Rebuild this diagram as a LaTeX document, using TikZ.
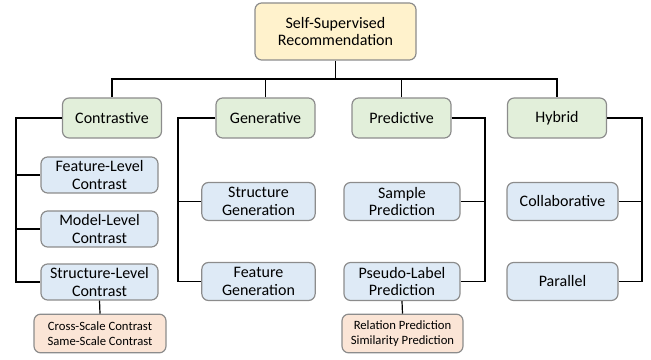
\documentclass[tikz,border=0pt]{standalone}
\usepackage{fontspec}
\setmainfont{Carlito}
\usepackage{tikz}

\definecolor{rootfill}{HTML}{FFF2CC}
\definecolor{catfill}{HTML}{E2EFDA}
\definecolor{subfill}{HTML}{DEEAF6}
\definecolor{leaffill}{HTML}{FBE5D6}
\definecolor{boxline}{HTML}{8C8C8C}

\begin{document}
\begin{tikzpicture}[x=0.75pt,y=-0.75pt,line width=0.9pt,
  box/.style={draw=boxline,rounded corners=5pt,align=center,inner sep=1pt,
    font=\fontsize{12}{13}\selectfont},
  rootbox/.style={box,fill=rootfill,minimum width=120.75pt,minimum height=42.75pt},
  catbox/.style={box,fill=catfill,minimum width=74.25pt,minimum height=30pt},
  subbox/.style={box,fill=subfill,minimum height=28.5pt},
  leafbox/.style={box,fill=leaffill,minimum height=29pt,
    font=\fontsize{9.5}{11.3}\selectfont}]
\useasboundingbox (0,0) rectangle (651,360);

\node [rootbox] (root) at (335.5,31.5) {Self-Supervised\\Recommendation};

\node [catbox] (con) at (112,118) {Contrastive};
\node [catbox] (gen) at (265.5,118) {Generative};
\node [catbox] (pre) at (401.5,118) {Predictive};
\node [catbox] (hyb) at (557,118) {Hybrid};

\node [subbox,minimum width=87.75pt,minimum height=27pt] (feat) at (99.5,175) {Feature-Level\\Contrast};
\node [subbox,minimum width=87.75pt,minimum height=27pt] (model) at (99.5,229) {Model-Level\\Contrast};
\node [subbox,minimum width=87.75pt,minimum height=27pt] (struct) at (99.5,282) {Structure-Level\\Contrast};

\node [subbox,minimum width=85pt] (sgen) at (258.5,201.5) {Structure\\Generation};
\node [subbox,minimum width=85pt] (fgen) at (258.5,281.5) {Feature\\Generation};

\node [subbox,minimum width=87pt] (spre) at (402,201.5) {Sample\\Prediction};
\node [subbox,minimum width=87pt] (plpre) at (402,281.5) {Pseudo-Label\\Prediction};

\node [subbox,minimum width=83.25pt] (coll) at (562.5,201.5) {Collaborative};
\node [subbox,minimum width=83.25pt] (par) at (562.5,281.5) {Parallel};

\node [leafbox,minimum width=99pt] (scale) at (100,333.5) {Cross-Scale Contrast\\Same-Scale Contrast};
\node [leafbox,minimum width=90.75pt] (relsim) at (402.5,333.5) {Relation Prediction\\Similarity Prediction};

% top level bus
\coordinate (bus) at (335.5,79);
\draw (root.south) -- (bus);
\draw (con.north) -- (con.north |- bus) -- (hyb.north |- bus) -- (hyb.north);
\draw (gen.north) -- (gen.north |- bus);
\draw (pre.north) -- (pre.north |- bus);

% contrastive
\coordinate (cont) at (16,118);
\draw (con.west) -- (cont) |- (struct.west);
\draw (cont |- feat.west) -- (feat.west);
\draw (cont |- model.west) -- (model.west);
\draw (struct.south) -- (scale.north);

% generative
\coordinate (gent) at (178,118);
\draw (gen.west) -- (gent) |- (fgen.west);
\draw (gent |- sgen.west) -- (sgen.west);

% predictive
\coordinate (pret) at (485,118);
\draw (pre.east) -- (pret) |- (plpre.east);
\draw (pret |- spre.east) -- (spre.east);
\draw (plpre.south) -- (relsim.north);

% hybrid
\coordinate (hybt) at (642,118);
\draw (hyb.east) -- (hybt) |- (par.east);
\draw (hybt |- coll.east) -- (coll.east);

\end{tikzpicture}
\end{document}
